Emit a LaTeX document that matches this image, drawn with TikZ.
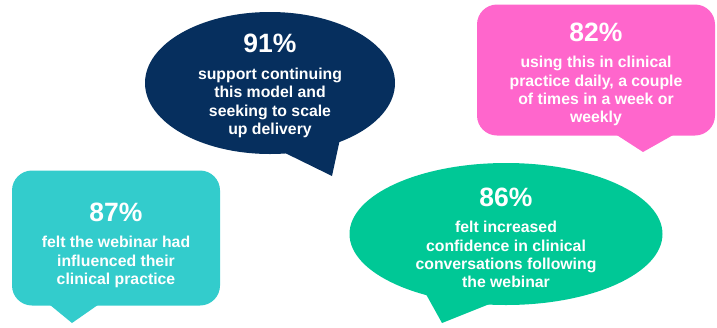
\documentclass[tikz,border=0pt]{standalone}
\usepackage{fontspec}
\setmainfont{Liberation Sans}
\usepackage{xcolor}
\usetikzlibrary{shapes.geometric,positioning}

\definecolor{navyblue}{HTML}{062F5E}
\definecolor{tealbox}{HTML}{33CCCC}
\definecolor{pinkbox}{HTML}{FF66CC}
\definecolor{greenbox}{HTML}{00C896}

\newcommand{\bignum}[1]{{\fontsize{26.5}{30}\selectfont #1}}

\begin{document}
\begin{tikzpicture}[x=1pt, y=-1pt,
    bubble/.style={inner sep=0pt, draw=none},
    oval/.style={bubble, ellipse},
    box/.style={bubble, rectangle, rounded corners=20pt},
    stat/.style={inner sep=0pt, align=center, text=white,
        font=\fontsize{15.8}{18.4}\selectfont\bfseries}]
    \useasboundingbox (0,0) rectangle (717,327);

    % Tails
    \fill[navyblue] (281,151) -- (332,176) -- (340,139) -- cycle;
    \fill[pinkbox] (609,130) -- (643,152) -- (682,130) -- cycle;
    \fill[tealbox] (44,300) -- (72,323) -- (105,300) -- cycle;
    \fill[greenbox] (422,287) -- (442,323) -- (497,301) -- cycle;

    % Bubbles
    \node[oval, fill=navyblue, minimum width=250pt, minimum height=142pt] (support) at (270,83) {};
    \node[box, fill=pinkbox, minimum width=238pt, minimum height=131pt] (daily) at (596,70) {};
    \node[box, fill=tealbox, minimum width=208pt, minimum height=135pt] (webinar) at (116,238) {};
    \node[oval, fill=greenbox, minimum width=313pt, minimum height=142pt] (confidence) at (506,234) {};

    % Texts
    \node[stat] (support text) at ([yshift=-3pt]support.center)
        {\bignum{91\%}\\[8pt] support continuing\\ this model and\\ seeking to scale\\ up delivery};
    \node[stat] (daily text) at ([yshift=-4.5pt]daily.center)
        {\bignum{82\%}\\[8pt] using this in clinical\\ practice daily, a couple\\ of times in a week or\\ weekly};
    \node[stat] (webinar text) at ([yshift=-7.5pt]webinar.center)
        {\bignum{87\%}\\[8pt] felt the webinar had\\ influenced their\\ clinical practice};
    \node[stat] (confidence text) at ([yshift=-4pt]confidence.center)
        {\bignum{86\%}\\[8pt] felt increased\\ confidence in clinical\\ conversations following\\ the webinar};
\end{tikzpicture}
\end{document}
